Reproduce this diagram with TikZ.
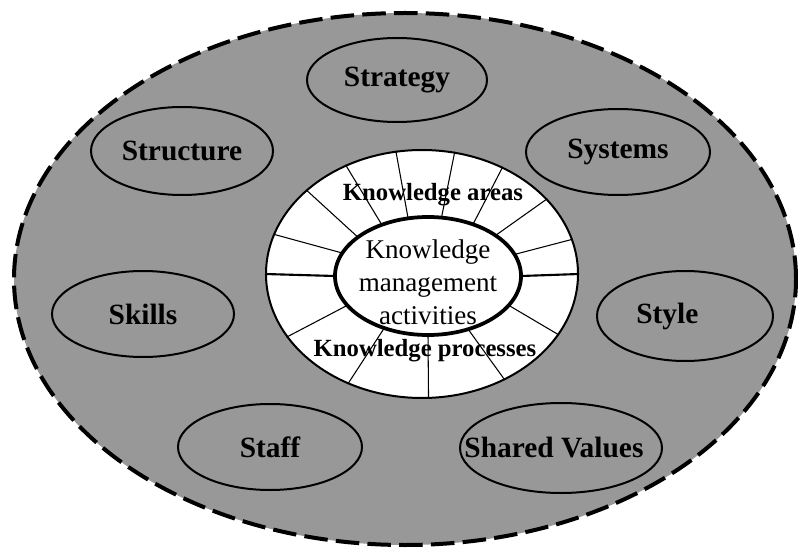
\documentclass[tikz,border=0pt]{standalone}
\usepackage{fontspec}
\setmainfont{Liberation Serif}
\usetikzlibrary{shapes.geometric}
\definecolor{orgfill}{RGB}{152,152,152}
\tikzset{
  oval/.style n args={2}{ellipse, inner sep=0pt,
    minimum width={2*#1*0.85pt}, minimum height={2*#2*0.85pt}},
  outerrim/.style={draw, fill=orgfill, line width=3.4pt,
    dash pattern=on 20pt off 7pt},
  factor/.style={draw, line width=1.7pt,
    label={[font=\fontsize{25}{30}\selectfont\bfseries]center:#1}},
  spoke/.style={line width=0.9pt},
  mainspoke/.style={line width=1.8pt},
  ringtext/.style={font=\fontsize{21}{25}\selectfont\bfseries}
}
\begin{document}
\begin{tikzpicture}[x=0.85pt, y=-0.85pt]
\useasboundingbox (0,0) rectangle (798,548);

% organisation (dashed boundary)
\node[oval={391}{266}, outerrim] (org) at (405,279) {};

% the seven factors
\node[oval={90}{42},  factor=Strategy]  (strategy)  at (397,80)  {};
\node[oval={91}{44},  factor=Structure] (structure) at (182,151) {};
\node[oval={92}{43},  factor=Systems]   (systems)   at (618,152) {};
\node[oval={91}{43},  factor=Skills]    (skills)    at (143,314) {};
\node[oval={88}{45},  factor={Style\kern 30pt}] (style) at (685,316) {};
\node[oval={92}{43},  factor=Staff]     (staff)     at (270,447) {};
\node[oval={101}{45}, factor={Shared Values\kern 12pt}] (shared) at (561,448) {};

% knowledge ring
\node[oval={156}{124}, draw, fill=white, line width=1.7pt] (ring) at (422,274) {};
\node[oval={93}{59}] (kmcore) at (428,276) {};

% spokes between core and ring
\draw[spoke] (kmcore.109) -- (ring.102.6);
\draw[spoke] (kmcore.77) -- (ring.75.2);
\draw[spoke] (kmcore.49) -- (ring.53.1);
\draw[spoke] (kmcore.31.9) -- (ring.31.4);
\draw[spoke] (kmcore.14.5) -- (ring.13.5);
\draw[mainspoke] (kmcore.0) -- (ring.0);
\draw[spoke] (kmcore.-20.9) -- (ring.-24.2);
\draw[spoke] (kmcore.-53.1) -- (ring.-52.6);
\draw[spoke] (kmcore.-90) -- (ring.-87.2);
\draw[spoke] (kmcore.-130.6) -- (ring.-124.4);
\draw[spoke] (kmcore.-160) -- (ring.-155.2);
\draw[mainspoke] (kmcore.180) -- (ring.180);
\draw[spoke] (kmcore.165) -- (ring.165.1);
\draw[spoke] (kmcore.151.3) -- (ring.144.8);
\draw[spoke] (kmcore.132.8) -- (ring.125.8);

% core
\node[oval={93}{59}, draw, fill=white, line width=3.2pt] (core) at (428,276) {};
\node[align=center, font=\fontsize{23}{28}\selectfont, inner sep=0pt]
  (coretext) at (428,282) {Knowledge\\management\\activities};

\node[ringtext] (areas) at (433,195) {Knowledge areas};
\node[ringtext] (processes) at (425,351) {Knowledge processes};
\end{tikzpicture}
\end{document}
